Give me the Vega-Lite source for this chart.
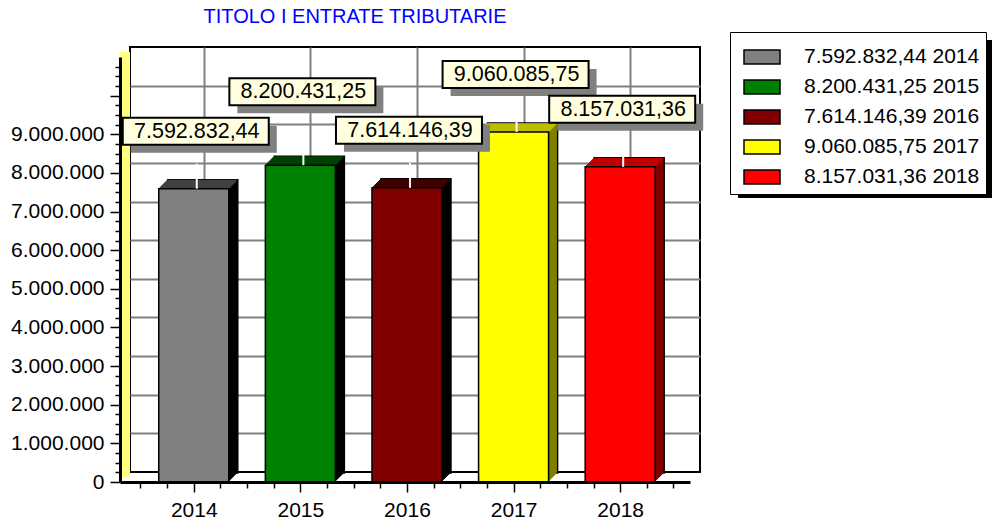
{
  "$schema": "https://vega.github.io/schema/vega-lite/v6.json",
  "width": 570,
  "height": 425,
  "autosize": "none",
  "padding": {"left": 130, "top": 47, "right": 292, "bottom": 50},
  "background": "white",
  "config": {
    "view": {"stroke": "#000", "strokeWidth": 2},
    "font": "Liberation Sans"
  },
  "title": {
    "text": "TITOLO I ENTRATE TRIBUTARIE",
    "font": "Liberation Sans",
    "fontSize": 20,
    "fontWeight": "normal",
    "color": "#0000ff",
    "anchor": "middle",
    "frame": "group",
    "dx": -60,
    "dy": 3,
    "offset": 8
  },
  "data": {
    "values": [
      {"year": 2014, "value": 7592832.44, "label": "7.592.832,44", "legend": "7.592.832,44 2014"},
      {"year": 2015, "value": 8200431.25, "label": "8.200.431,25", "legend": "8.200.431,25 2015"},
      {"year": 2016, "value": 7614146.39, "label": "7.614.146,39", "legend": "7.614.146,39 2016"},
      {"year": 2017, "value": 9060085.75, "label": "9.060.085,75", "legend": "9.060.085,75 2017"},
      {"year": 2018, "value": 8157031.36, "label": "8.157.031,36", "legend": "8.157.031,36 2018"}
    ]
  },
  "resolve": {"axis": {"x": "independent", "y": "independent"}},
  "layer": [
    {
      "mark": {"type": "point", "opacity": 0},
      "encoding": {
        "x": {"field": "year", "type": "quantitative", "scale": {"domain": [2013.355, 2018.608], "nice": false, "zero": false},
          "axis": {"orient": "bottom", "values": [2014, 2015, 2016, 2017, 2018], "grid": true, "gridColor": "#808080", "gridWidth": 2, "gridOpacity": 1, "domain": false, "ticks": false, "labels": false, "title": null}},
        "y": {"field": "value", "type": "quantitative", "scale": {"domain": [0, 11000000], "nice": false},
          "axis": {"orient": "left", "values": [1000000, 2000000, 3000000, 4000000, 5000000, 6000000, 7000000, 8000000, 9000000, 10000000], "grid": true, "gridColor": "#808080", "gridWidth": 2, "gridOpacity": 1, "domain": false, "ticks": false, "labels": false, "title": null}}
      }
    },
    {
      "mark": {"type": "point", "opacity": 0},
      "encoding": {
        "x": {"field": "year", "type": "quantitative", "axis": null},
        "y": {"field": "value", "type": "quantitative",
          "axis": {"orient": "left", "offset": 10, "translate": 5, "domain": true, "domainColor": "#ffff80", "domainWidth": 10, "ticks": false, "labels": false, "grid": false, "title": null}}
      }
    },
    {
      "mark": {"type": "point", "opacity": 0},
      "encoding": {
        "x": {"field": "year", "type": "quantitative",
          "axis": {"orient": "bottom", "offset": 20, "translate": -9.5, "values": [2014, 2015, 2016, 2017, 2018], "format": "d", "domain": true, "domainColor": "#000", "domainWidth": 3, "ticks": true, "tickColor": "#000", "tickWidth": 1.5, "tickSize": 10, "labelFont": "Liberation Sans", "labelFontSize": 21, "labelColor": "#000", "labelPadding": 7, "grid": false, "title": null, "zindex": 1}},
        "y": {"field": "value", "type": "quantitative",
          "axis": {"orient": "left", "offset": 20, "translate": 10.5, "values": [0, 1000000, 2000000, 3000000, 4000000, 5000000, 6000000, 7000000, 8000000, 9000000, 10000000], "labelExpr": "datum.value <= 9000000 ? replace(format(datum.value, ',d'), /,/g, '.') : ''", "domain": true, "domainColor": "#000", "domainWidth": 3, "ticks": true, "tickColor": "#000", "tickWidth": 1.5, "tickSize": 10, "labelFont": "Liberation Sans", "labelFontSize": 21, "labelColor": "#000", "labelPadding": 6, "labelOverlap": false, "labelBound": false, "grid": false, "title": null}}
      }
    },
    {
      "mark": {"type": "point", "opacity": 0},
      "encoding": {
        "x": {"field": "year", "type": "quantitative",
          "axis": {"orient": "bottom", "offset": 20, "translate": -9.5, "values": [2013.5, 2013.75, 2014.25, 2014.5, 2014.75, 2015.25, 2015.5, 2015.75, 2016.25, 2016.5, 2016.75, 2017.25, 2017.5, 2017.75, 2018.25, 2018.5], "domain": false, "ticks": true, "tickColor": "#000", "tickWidth": 1.5, "tickSize": 6, "labels": false, "grid": false, "title": null, "zindex": 1}},
        "y": {"field": "value", "type": "quantitative",
          "axis": {"orient": "left", "offset": 20, "translate": 10.5, "values": [250000, 500000, 750000, 1250000, 1500000, 1750000, 2250000, 2500000, 2750000, 3250000, 3500000, 3750000, 4250000, 4500000, 4750000, 5250000, 5500000, 5750000, 6250000, 6500000, 6750000, 7250000, 7500000, 7750000, 8250000, 8500000, 8750000, 9250000, 9500000, 9750000, 10250000, 10500000, 10750000], "domain": false, "ticks": true, "tickColor": "#000", "tickWidth": 1.5, "tickSize": 5, "labels": false, "grid": false, "title": null}}
      }
    },
    {"mark": {"type": "bar", "orient": "vertical", "width": 70, "xOffset": -1, "yOffset": 1, "y2Offset": 1, "stroke": "#000", "strokeWidth": 1.5}, "encoding": {"x": {"field": "year", "type": "quantitative", "axis": null}, "y": {"field": "value", "type": "quantitative", "axis": null, "stack": null}, "y2": {"datum": 0}, "color": {"field": "label", "type": "nominal", "scale": {"domain": ["7.592.832,44", "8.200.431,25", "7.614.146,39", "9.060.085,75", "8.157.031,36"], "range": ["#000000", "#000000", "#000000", "#808000", "#800000"]}, "legend": null}}},
    {"mark": {"type": "bar", "orient": "vertical", "width": 70, "xOffset": -2, "yOffset": 2, "y2Offset": 2}, "encoding": {"x": {"field": "year", "type": "quantitative", "axis": null}, "y": {"field": "value", "type": "quantitative", "axis": null, "stack": null}, "y2": {"datum": 0}, "color": {"field": "label", "type": "nominal", "legend": null}}},
    {"mark": {"type": "bar", "orient": "vertical", "width": 70, "xOffset": -3, "yOffset": 3, "y2Offset": 3}, "encoding": {"x": {"field": "year", "type": "quantitative", "axis": null}, "y": {"field": "value", "type": "quantitative", "axis": null, "stack": null}, "y2": {"datum": 0}, "color": {"field": "label", "type": "nominal", "legend": null}}},
    {"mark": {"type": "bar", "orient": "vertical", "width": 70, "xOffset": -4, "yOffset": 4, "y2Offset": 4}, "encoding": {"x": {"field": "year", "type": "quantitative", "axis": null}, "y": {"field": "value", "type": "quantitative", "axis": null, "stack": null}, "y2": {"datum": 0}, "color": {"field": "label", "type": "nominal", "legend": null}}},
    {"mark": {"type": "bar", "orient": "vertical", "width": 70, "xOffset": -5, "yOffset": 5, "y2Offset": 5}, "encoding": {"x": {"field": "year", "type": "quantitative", "axis": null}, "y": {"field": "value", "type": "quantitative", "axis": null, "stack": null}, "y2": {"datum": 0}, "color": {"field": "label", "type": "nominal", "legend": null}}},
    {"mark": {"type": "bar", "orient": "vertical", "width": 70, "xOffset": -6, "yOffset": 6, "y2Offset": 6}, "encoding": {"x": {"field": "year", "type": "quantitative", "axis": null}, "y": {"field": "value", "type": "quantitative", "axis": null, "stack": null}, "y2": {"datum": 0}, "color": {"field": "label", "type": "nominal", "legend": null}}},
    {"mark": {"type": "bar", "orient": "vertical", "width": 70, "xOffset": -7, "yOffset": 7, "y2Offset": 7}, "encoding": {"x": {"field": "year", "type": "quantitative", "axis": null}, "y": {"field": "value", "type": "quantitative", "axis": null, "stack": null}, "y2": {"datum": 0}, "color": {"field": "label", "type": "nominal", "legend": null}}},
    {"mark": {"type": "bar", "orient": "vertical", "width": 70, "xOffset": -8, "yOffset": 8, "y2Offset": 8}, "encoding": {"x": {"field": "year", "type": "quantitative", "axis": null}, "y": {"field": "value", "type": "quantitative", "axis": null, "stack": null}, "y2": {"datum": 0}, "color": {"field": "label", "type": "nominal", "legend": null}}},
    {"mark": {"type": "bar", "orient": "vertical", "width": 70, "xOffset": -9, "yOffset": 9, "y2Offset": 9}, "encoding": {"x": {"field": "year", "type": "quantitative", "axis": null}, "y": {"field": "value", "type": "quantitative", "axis": null, "stack": null}, "y2": {"datum": 0}, "color": {"field": "label", "type": "nominal", "legend": null}}},
    {"mark": {"type": "bar", "orient": "vertical", "width": 70, "xOffset": -2, "yOffset": 2, "y2Offset": 2, "fillOpacity": 0, "strokeWidth": 1.6}, "encoding": {"x": {"field": "year", "type": "quantitative", "axis": null}, "y": {"field": "value", "type": "quantitative", "axis": null, "stack": null}, "y2": {"field": "value"},
      "stroke": {"field": "year", "type": "nominal", "scale": {"domain": [2014, 2015, 2016, 2017, 2018], "range": ["#404040", "#004000", "#400000", "#c0c000", "#c00000"]},
        "legend": {"orient": "none", "legendX": 608, "legendY": -7, "title": null, "fillColor": "#000", "strokeColor": "#000", "padding": 6, "symbolType": "M-0.611,-0.389L1.389,-0.389L1.389,0.389L-0.611,0.389Z", "symbolSize": 1296, "symbolOpacity": 0, "labelExpr": "' '", "labelFont": "Liberation Sans", "labelFontSize": 21, "labelColor": "#000", "labelOffset": 204, "labelLimit": 400, "rowPadding": -10.25, "zindex": 0}}}},
    {"mark": {"type": "bar", "orient": "vertical", "width": 70, "xOffset": -3, "yOffset": 3, "y2Offset": 3, "fillOpacity": 0, "strokeWidth": 1.6}, "encoding": {"x": {"field": "year", "type": "quantitative", "axis": null}, "y": {"field": "value", "type": "quantitative", "axis": null, "stack": null}, "y2": {"field": "value"}, "stroke": {"field": "year", "type": "nominal"}}},
    {"mark": {"type": "bar", "orient": "vertical", "width": 70, "xOffset": -4, "yOffset": 4, "y2Offset": 4, "fillOpacity": 0, "strokeWidth": 1.6}, "encoding": {"x": {"field": "year", "type": "quantitative", "axis": null}, "y": {"field": "value", "type": "quantitative", "axis": null, "stack": null}, "y2": {"field": "value"}, "stroke": {"field": "year", "type": "nominal"}}},
    {"mark": {"type": "bar", "orient": "vertical", "width": 70, "xOffset": -5, "yOffset": 5, "y2Offset": 5, "fillOpacity": 0, "strokeWidth": 1.6}, "encoding": {"x": {"field": "year", "type": "quantitative", "axis": null}, "y": {"field": "value", "type": "quantitative", "axis": null, "stack": null}, "y2": {"field": "value"}, "stroke": {"field": "year", "type": "nominal"}}},
    {"mark": {"type": "bar", "orient": "vertical", "width": 70, "xOffset": -6, "yOffset": 6, "y2Offset": 6, "fillOpacity": 0, "strokeWidth": 1.6}, "encoding": {"x": {"field": "year", "type": "quantitative", "axis": null}, "y": {"field": "value", "type": "quantitative", "axis": null, "stack": null}, "y2": {"field": "value"}, "stroke": {"field": "year", "type": "nominal"}}},
    {"mark": {"type": "bar", "orient": "vertical", "width": 70, "xOffset": -7, "yOffset": 7, "y2Offset": 7, "fillOpacity": 0, "strokeWidth": 1.6}, "encoding": {"x": {"field": "year", "type": "quantitative", "axis": null}, "y": {"field": "value", "type": "quantitative", "axis": null, "stack": null}, "y2": {"field": "value"}, "stroke": {"field": "year", "type": "nominal"}}},
    {"mark": {"type": "bar", "orient": "vertical", "width": 70, "xOffset": -8, "yOffset": 8, "y2Offset": 8, "fillOpacity": 0, "strokeWidth": 1.6}, "encoding": {"x": {"field": "year", "type": "quantitative", "axis": null}, "y": {"field": "value", "type": "quantitative", "axis": null, "stack": null}, "y2": {"field": "value"}, "stroke": {"field": "year", "type": "nominal"}}},
    {"mark": {"type": "bar", "orient": "vertical", "width": 70, "xOffset": -9, "yOffset": 9, "y2Offset": 9, "fillOpacity": 0, "strokeWidth": 1.6}, "encoding": {"x": {"field": "year", "type": "quantitative", "axis": null}, "y": {"field": "value", "type": "quantitative", "axis": null, "stack": null}, "y2": {"field": "value"}, "stroke": {"field": "year", "type": "nominal"}}},
    {"mark": {"type": "bar", "orient": "vertical", "width": 70, "xOffset": -10, "yOffset": 10, "y2Offset": 10, "stroke": "#000", "strokeWidth": 1.5},
      "encoding": {"x": {"field": "year", "type": "quantitative", "axis": null}, "y": {"field": "value", "type": "quantitative", "axis": null, "stack": null}, "y2": {"datum": 0},
        "fill": {"field": "legend", "type": "nominal", "scale": {"domain": ["7.592.832,44 2014", "8.200.431,25 2015", "7.614.146,39 2016", "9.060.085,75 2017", "8.157.031,36 2018"], "range": ["#808080", "#008000", "#800000", "#ffff00", "#ff0000"]},
          "legend": {"orient": "none", "legendX": 600, "legendY": -15, "title": null, "fillColor": "#fff", "strokeColor": "#000", "padding": 6, "symbolType": "M-0.611,-0.389L1.389,-0.389L1.389,0.389L-0.611,0.389Z", "symbolSize": 1296, "symbolStrokeColor": "#000", "symbolStrokeWidth": 1.5, "symbolOpacity": 1, "labelFont": "Liberation Sans", "labelFontSize": 21, "labelColor": "#000", "labelOffset": 30, "labelLimit": 400, "rowPadding": -10.25, "zindex": 1}}}},
    {"mark": {"type": "rule", "color": "#ffffff", "strokeWidth": 2, "xOffset": -7, "yOffset": 10, "y2Offset": -15},
      "encoding": {"x": {"field": "year", "type": "quantitative", "axis": null}, "y": {"field": "value", "type": "quantitative", "axis": null}, "y2": {"field": "value"}}},
    {"transform": [{"filter": "datum.year != 2015"}],
      "mark": {"type": "point", "shape": "M-1,-0.185L1,-0.185L1,0.185L-1,0.185Z", "size": 21316, "filled": true, "opacity": 1, "fill": "#808080", "strokeWidth": 0, "xOffset": 0, "yOffset": -39.5},
      "encoding": {"x": {"field": "year", "type": "quantitative", "axis": null}, "y": {"field": "value", "type": "quantitative", "axis": null}}},
    {"transform": [{"filter": "datum.year == 2015"}],
      "mark": {"type": "point", "shape": "M-1,-0.185L1,-0.185L1,0.185L-1,0.185Z", "size": 21316, "filled": true, "opacity": 1, "fill": "#808080", "strokeWidth": 0, "xOffset": 0, "yOffset": -55.5},
      "encoding": {"x": {"field": "year", "type": "quantitative", "axis": null}, "y": {"field": "value", "type": "quantitative", "axis": null}}},
    {"transform": [{"filter": "datum.year != 2015"}],
      "mark": {"type": "point", "shape": "M-1,-0.185L1,-0.185L1,0.185L-1,0.185Z", "size": 21316, "filled": true, "opacity": 1, "fill": "#ffffe0", "stroke": "#000", "strokeWidth": 2, "xOffset": -8, "yOffset": -47.5},
      "encoding": {"x": {"field": "year", "type": "quantitative", "axis": null}, "y": {"field": "value", "type": "quantitative", "axis": null}}},
    {"transform": [{"filter": "datum.year == 2015"}],
      "mark": {"type": "point", "shape": "M-1,-0.185L1,-0.185L1,0.185L-1,0.185Z", "size": 21316, "filled": true, "opacity": 1, "fill": "#ffffe0", "stroke": "#000", "strokeWidth": 2, "xOffset": -8, "yOffset": -63.5},
      "encoding": {"x": {"field": "year", "type": "quantitative", "axis": null}, "y": {"field": "value", "type": "quantitative", "axis": null}}},
    {"transform": [{"filter": "datum.year != 2015"}],
      "mark": {"type": "text", "font": "Liberation Sans", "fontSize": 21.5, "color": "#000", "align": "center", "baseline": "middle", "xOffset": -7, "yOffset": -47},
      "encoding": {"x": {"field": "year", "type": "quantitative", "axis": null}, "y": {"field": "value", "type": "quantitative", "axis": null}, "text": {"field": "label"}}},
    {"transform": [{"filter": "datum.year == 2015"}],
      "mark": {"type": "text", "font": "Liberation Sans", "fontSize": 21.5, "color": "#000", "align": "center", "baseline": "middle", "xOffset": -7, "yOffset": -63},
      "encoding": {"x": {"field": "year", "type": "quantitative", "axis": null}, "y": {"field": "value", "type": "quantitative", "axis": null}, "text": {"field": "label"}}}
  ]
}
